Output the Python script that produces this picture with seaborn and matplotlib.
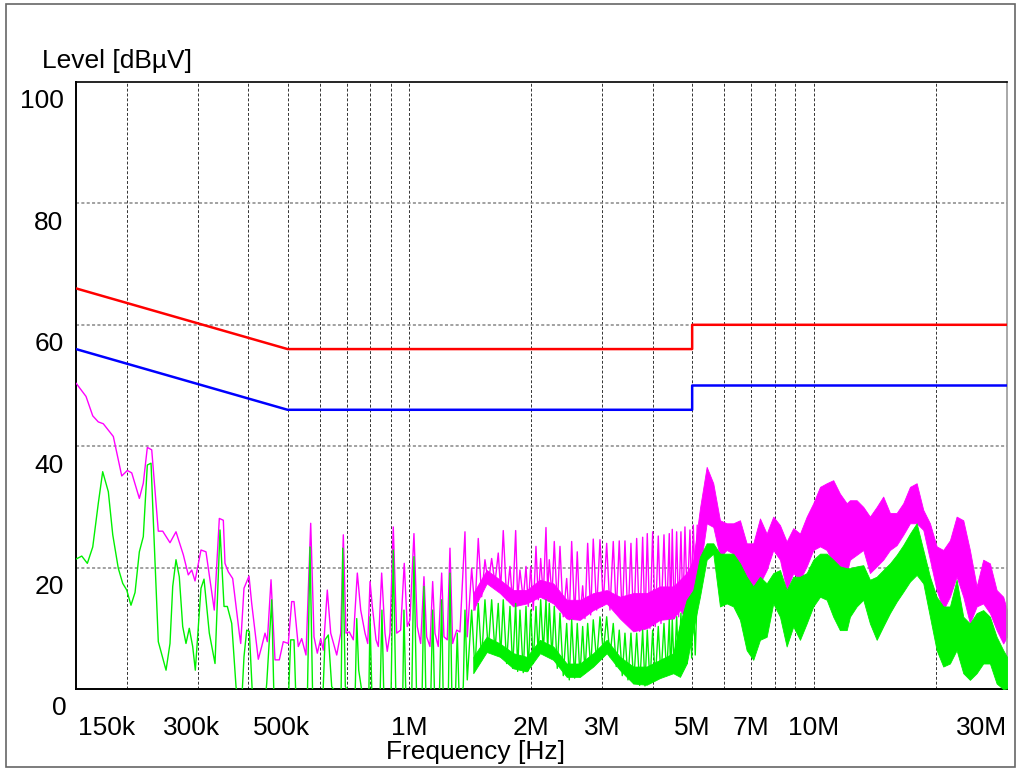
import matplotlib
matplotlib.use("Agg")
import matplotlib.pyplot as plt
from matplotlib.patches import Rectangle
from matplotlib.ticker import FixedLocator, NullLocator
import numpy as np
import seaborn as sns

# limit lines (CISPR class B), frequency in MHz
limit_f = [0.15, 0.5, 5.0, 5.0, 30.0]
qp_limit = [66, 56, 56, 60, 60]
av_limit = [56, 46, 46, 50, 50]

# peak trace (magenta), MHz / dBuV, 150 kHz .. 5.15 MHz
mag_f = [0.1500, 0.1588, 0.1650, 0.1703, 0.1752, 0.1855, 0.1946, 0.2009, 0.2060, 0.2151,
         0.2200, 0.2251, 0.2308, 0.2396, 0.2457, 0.2561, 0.2650, 0.2763, 0.2842, 0.2898,
         0.2953, 0.3055, 0.3143, 0.3295, 0.3391, 0.3469, 0.3502, 0.3569, 0.3659, 0.3799,
         0.3830, 0.3902, 0.4015, 0.4077, 0.4233, 0.4316, 0.4398, 0.4456, 0.4551, 0.4655,
         0.4771, 0.4880, 0.5021, 0.5119, 0.5187, 0.5315, 0.5419, 0.5553, 0.5704, 0.5812,
         0.5922, 0.6038, 0.6128, 0.6269, 0.6392, 0.6614, 0.6766, 0.6867, 0.6974, 0.7106,
         0.7269, 0.7437, 0.7582, 0.7770, 0.7891, 0.7995, 0.8100, 0.8272, 0.8381, 0.8542,
         0.8704, 0.8818, 0.8955, 0.9125, 0.9303, 0.9517, 0.9714, 0.9881, 1.0034, 1.0265,
         1.0460, 1.0665, 1.0867, 1.1035, 1.1244, 1.1419, 1.1569, 1.1788, 1.2019, 1.2177,
         1.2408, 1.2600, 1.2795, 1.3090, 1.3338, 1.3723, 1.3904,
         1.4255, 1.4526, 1.4801, 1.5090, 1.5376, 1.5668, 1.5974, 1.6277, 1.6585, 1.6814,
         1.7064, 1.7398, 1.7728, 1.8003, 1.8313, 1.8522, 1.8765, 1.9121, 1.9421, 1.9676,
         1.9946, 2.0244, 2.0557, 2.0828, 2.1114, 2.1429, 2.1761, 2.1973, 2.2174, 2.2517,
         2.2813, 2.3206, 2.3565, 2.4012, 2.4481, 2.4846, 2.5186, 2.5620, 2.6001, 2.6404,
         2.6813, 2.7167, 2.7588, 2.8063, 2.8481, 2.9038, 2.9590, 3.0148, 3.0737, 3.1320,
         3.1914, 3.2463, 3.3021, 3.3590, 3.4110, 3.4698, 3.5295, 3.5842, 3.6460, 3.7088,
         3.7726, 3.8224, 3.8727, 3.9327, 3.9937, 4.0533, 4.1231, 4.1870, 4.2591, 4.3251,
         4.3891, 4.4242, 4.4647, 4.5152, 4.5774, 4.6298, 4.6908, 4.7444, 4.7988, 4.8620,
         4.9380, 4.9861, 5.0315, 5.0883, 5.1467]
mag_db = [50.4, 48.2, 45.0, 44.0, 43.7, 41.6, 35.1, 36.0, 35.6, 31.4,
          33.9, 39.8, 39.4, 26.0, 26.0, 24.1, 25.9, 22.1, 18.8, 19.6,
          17.8, 22.9, 22.6, 13.0, 28.1, 27.8, 20.7, 19.3, 18.2, 9.2,
          7.5, 16.6, 18.6, 14.1, 4.9, 7.0, 9.2, 7.8, 18.0, 4.8,
          4.8, 7.8, 7.5, 14.4, 14.4, 7.0, 8.3, 5.6, 27.3, 8.6,
          5.9, 8.3, 6.4, 16.3, 9.2, 5.6, 9.2, 25.4, 9.2, 9.4,
          8.1, 19.1, 13.0, 9.2, 7.5, 17.7, 13.6, 8.1, 7.0, 19.1,
          9.2, 6.2, 9.2, 26.7, 9.2, 9.7, 20.7, 10.3, 11.4, 25.6,
          10.3, 7.5, 18.5, 8.6, 7.0, 17.7, 9.2, 7.0, 19.1, 8.6,
          8.1, 23.2, 7.5, 9.7, 9.4, 25.9, 8.6,
          19.9, 13.0, 24.8, 15.2, 21.3, 17.4, 21.5, 17.4, 22.4, 16.3,
          26.1, 14.7, 20.2, 14.1, 26.1, 14.7, 19.6, 14.7, 20.2, 13.6,
          20.2, 13.0, 23.5, 14.7, 21.5, 15.2, 26.6, 15.8, 21.3, 15.2,
          24.3, 13.6, 23.5, 11.9, 18.2, 11.4, 24.3, 11.9, 22.6, 11.4,
          17.0, 11.6, 24.0, 12.2, 24.7, 13.0, 24.6, 14.1, 24.0, 13.0,
          24.3, 12.5, 24.4, 11.6, 24.4, 10.8, 24.0, 9.7, 24.8, 9.5,
          25.0, 10.0, 25.6, 10.0, 25.9, 10.3, 25.2, 10.8, 25.4, 11.6,
          25.6, 11.9, 26.3, 11.6, 25.9, 11.9, 25.9, 12.5, 26.7, 14.1,
          26.2, 15.2, 27.0, 16.9, 27.0]

# average trace (green), MHz / dBuV; -2 = below the plotted floor
avg_f = [0.1500, 0.1550, 0.1600, 0.1650, 0.1703, 0.1746, 0.1803, 0.1849, 0.1908, 0.1957,
         0.2002, 0.2051, 0.2099, 0.2151, 0.2200, 0.2251, 0.2299, 0.2329, 0.2396, 0.2504,
         0.2561, 0.2601, 0.2650, 0.2700, 0.2753, 0.2805, 0.2858, 0.2914, 0.2958, 0.3055,
         0.3108, 0.3203, 0.3309, 0.3404, 0.3483, 0.3549, 0.3639, 0.3729, 0.3772, 0.3852,
         0.3902, 0.3963, 0.4022, 0.4101, 0.4398, 0.4441, 0.4569, 0.4629, 0.5021, 0.5090,
         0.5187, 0.5246, 0.5595, 0.5681, 0.5770, 0.6108, 0.6188, 0.6305, 0.6428, 0.6778,
         0.6844, 0.6946, 0.7340, 0.7412, 0.7496, 0.7695, 0.7936, 0.7995, 0.8086, 0.8460,
         0.8556, 0.8654, 0.9006, 0.9125, 0.9266, 0.9626, 0.9697, 0.9809, 1.0132, 1.0265,
         1.0425, 1.0744, 1.0867, 1.0991, 1.1289, 1.1419, 1.1549, 1.1855, 1.2019, 1.2128,
         1.2479, 1.2600, 1.2744, 1.2986, 1.3134, 1.3285, 1.3591, 1.3723, 1.3904,
         1.4255, 1.4526, 1.4801, 1.5090, 1.5376, 1.5668, 1.5974, 1.6277, 1.6585, 1.6814,
         1.7064, 1.7398, 1.7728, 1.8003, 1.8313, 1.8522, 1.8765, 1.9121, 1.9421, 1.9676,
         1.9946, 2.0244, 2.0557, 2.0828, 2.1114, 2.1429, 2.1761, 2.1973, 2.2174, 2.2517,
         2.2813, 2.3206, 2.3565, 2.4012, 2.4481, 2.4846, 2.5186, 2.5620, 2.6001, 2.6404,
         2.6813, 2.7167, 2.7588, 2.8063, 2.8481, 2.9038, 2.9590, 3.0148, 3.0737, 3.1320,
         3.1914, 3.2463, 3.3021, 3.3590, 3.4110, 3.4698, 3.5295, 3.5842, 3.6460, 3.7088,
         3.7726, 3.8224, 3.8727, 3.9327, 3.9937, 4.0533, 4.1231, 4.1870, 4.2591, 4.3251,
         4.3891, 4.4242, 4.4647, 4.5152, 4.5774, 4.6298, 4.6908, 4.7444, 4.7988, 4.8620,
         4.9380, 4.9861, 5.0315, 5.0883, 5.1467]
avg_db = [21.4, 21.9, 20.7, 23.4, 30.6, 35.8, 32.5, 25.4, 19.9, 17.4,
          16.3, 13.8, 15.9, 22.6, 25.1, 36.9, 37.2, 27.8, 7.8, 3.1,
          7.5, 16.9, 21.3, 18.5, 10.3, 7.5, 10.0, 7.0, 3.1, 16.6,
          18.1, 9.2, 4.2, 26.2, 13.6, 13.6, 10.8, 0.4, -2, -2,
          5.3, 9.7, 9.5, -2, -2, 0.9, 14.7, -2, -2, 8.1,
          8.1, -2, -2, 23.4, -2, -2, 8.1, 8.9, 0.4, -2,
          23.2, 0.4, -2, 11.6, 3.1, -2, -2, 11.9, -2, -2,
          13.0, -2, -2, 22.9, -2, -2, 13.0, -2, -2, 21.8,
          -2, -2, 16.9, -2, -2, 13.0, -2, -2, 14.7, -2,
          -2, 19.1, -2, -2, 9.2, -2, 0.4, 13.0, 1.5,
          13.0, 3.1, 14.1, 4.8, 14.7, 6.4, 14.7, 6.1, 14.1, 5.3,
          14.7, 4.2, 13.6, 3.4, 14.1, 2.9, 13.0, 2.7, 13.6, 3.0,
          13.0, 4.2, 13.6, 5.6, 14.7, 6.1, 14.7, 6.1, 14.1, 5.1,
          13.6, 3.4, 12.5, 2.2, 10.8, 1.5, 11.4, 1.8, 10.8, 2.0,
          10.3, 2.6, 10.8, 3.4, 11.4, 4.5, 11.9, 6.1, 11.9, 5.3,
          10.8, 3.7, 9.7, 2.2, 9.2, 1.5, 9.2, 0.9, 9.2, 0.6,
          9.7, 0.5, 9.7, 0.9, 9.7, 1.4, 10.3, 1.9, 10.8, 2.2,
          11.4, 2.5, 11.4, 2.6, 11.9, 3.1, 12.5, 3.7, 13.0, 4.2,
          14.7, 5.1, 15.2, 5.6, 16.3]

# dense part of both traces: lower / upper envelope, MHz / dBuV
band_f = [1.4385, 1.5527, 1.6747, 1.8065, 1.9499, 2.1030, 2.2683, 2.4478, 2.6404, 2.8478,
          3.0736, 3.3152, 3.5760, 3.8592, 4.1626, 4.4896,
          4.665, 4.846, 5.031, 5.227, 5.430, 5.638, 5.857, 6.085, 6.318, 6.563,
          6.817, 7.079, 7.354, 7.640, 7.933, 8.241, 8.560, 8.889, 9.235, 9.594,
          9.96, 10.35, 10.75, 11.16, 11.59, 12.05,
          12.27, 12.75, 13.24, 13.75, 14.29, 14.83, 15.41, 16.01, 16.62, 17.27,
          17.94, 18.63, 19.35, 20.10, 20.87, 21.68, 22.52, 23.39, 24.29, 25.24,
          26.20, 27.22, 28.28, 29.36, 30.0]
mag_lo = [13.0, 17.4, 15.8, 13.6, 14.1, 15.2, 14.1, 11.6, 11.4, 13.0,
          14.1, 11.6, 9.5, 10.0, 11.4, 11.6,
          13.0, 11.4, 15.8, 19.6, 27.3, 26.7, 21.8, 22.9, 22.3, 20.7,
          16.3, 14.1, 17.4, 19.6, 22.9, 21.3, 16.3, 19.1, 18.0, 20.2,
          22.9, 23.5, 22.9, 20.7, 19.1, 19.1,
          21.3, 22.1, 22.9, 19.1, 20.2, 21.3, 22.9, 23.7, 25.4, 27.3,
          27.3, 26.2, 21.3, 16.3, 13.0, 15.2, 18.5, 15.2, 10.8, 13.6,
          14.1, 12.5, 9.7, 7.5, 8.6]
mag_hi = [15.8, 19.6, 18.0, 16.3, 16.3, 18.0, 17.4, 14.7, 14.7, 15.8,
          16.3, 15.2, 15.8, 15.8, 16.9, 16.9,
          18.0, 19.1, 21.3, 29.8, 36.6, 33.9, 27.8, 27.3, 27.3, 27.8,
          24.0, 24.0, 28.1, 25.6, 28.4, 27.0, 24.3, 26.5, 25.6, 28.4,
          30.6, 33.3, 33.9, 34.4, 32.2, 30.6,
          31.1, 31.1, 30.0, 28.4, 30.0, 31.7, 29.0, 29.0, 30.6, 33.3,
          33.9, 29.5, 27.3, 23.5, 22.9, 24.5, 28.4, 27.8, 22.9, 16.9,
          21.3, 20.7, 16.3, 15.2, 13.0]
avg_lo = [2.6, 6.1, 5.3, 3.4, 2.9, 5.9, 4.8, 2.0, 2.0, 3.7,
          5.9, 3.1, 0.9, 0.7, 1.8, 2.6,
          2.0, 4.2, 9.7, 15.2, 21.3, 22.3, 13.6, 14.1, 13.6, 11.4,
          6.4, 4.8, 8.1, 8.6, 14.1, 11.9, 7.0, 10.3, 8.1, 10.8,
          13.6, 15.2, 14.7, 11.9, 9.7, 9.7,
          11.9, 13.6, 14.7, 10.8, 8.1, 10.3, 12.5, 14.4, 16.0, 17.7,
          18.8, 17.4, 11.9, 6.4, 3.7, 4.2, 6.4, 2.6, 1.5, 2.6,
          4.2, 4.2, 0.9, 0.0, 0.1]
avg_hi = [5.3, 8.6, 7.5, 5.9, 5.3, 8.1, 7.0, 4.2, 4.2, 5.9,
          8.1, 5.3, 3.7, 3.7, 4.8, 5.9,
          10.8, 14.7, 16.3, 21.8, 24.0, 24.0, 22.3, 22.3, 22.3, 20.7,
          18.5, 16.9, 18.5, 17.4, 19.1, 19.6, 16.3, 18.5, 18.5, 19.1,
          21.3, 22.3, 22.3, 21.3, 20.2, 19.9,
          19.9, 20.2, 20.4, 18.0, 18.5, 19.6, 20.7, 22.1, 23.7, 25.6,
          27.3, 22.9, 18.5, 15.2, 13.6, 13.6, 18.0, 11.9, 10.8, 12.5,
          13.0, 11.9, 8.6, 6.4, 5.3]

grid_f = [0.2, 0.3, 0.4, 0.5, 0.6, 0.7, 0.8, 0.9, 1, 2, 3, 4, 5, 6, 7, 8, 9, 10, 20]
tick_f = [0.15, 0.3, 0.5, 1, 2, 3, 5, 7, 10, 30]
tick_labels = ["150k", "300k", "500k", "1M", "2M", "3M", "5M", "7M", "10M", "30M"]
y_ticks = [0, 20, 40, 60, 80, 100]

MAG = "#ff00ff"
GRN = "#00f000"

sns.set_theme(style="white")
plt.rcParams["font.family"] = ["Liberation Sans", "DejaVu Sans"]

W, H = 1017, 769
fig = plt.figure(figsize=(W / 100, H / 100), dpi=100)
ax = fig.add_axes([76 / W, 1 - 689 / H, (1007 - 76) / W, (689 - 82) / H])
ax.set_xscale("log")

hz = lambda v: np.asarray(v) * 1e6

# dense bands first, magenta under green
ax.fill_between(hz(band_f), mag_lo, mag_hi, color=MAG, lw=0.6, zorder=2)
sns.lineplot(x=hz(mag_f), y=mag_db, color=MAG, lw=1.0, ax=ax,
             estimator=None, sort=False, zorder=3)
ax.fill_between(hz(band_f), avg_lo, avg_hi, color=GRN, lw=0.6, zorder=4)
sns.lineplot(x=hz(avg_f), y=avg_db, color=GRN, lw=1.0, ax=ax,
             estimator=None, sort=False, zorder=5)

sns.lineplot(x=hz(limit_f), y=qp_limit, color="#ff0000", lw=1.8, ax=ax,
             estimator=None, sort=False, zorder=6)
sns.lineplot(x=hz(limit_f), y=av_limit, color="#0000ff", lw=1.8, ax=ax,
             estimator=None, sort=False, zorder=6)

ax.set_xlim(0.15e6, 30e6)
ax.set_ylim(0, 100)
ax.xaxis.set_major_locator(FixedLocator(hz(grid_f)))
ax.xaxis.set_minor_locator(NullLocator())
ax.yaxis.set_major_locator(FixedLocator([20, 40, 60, 80]))
ax.tick_params(length=0, labelbottom=False, labelleft=False)
ax.set_xlabel("")
ax.set_ylabel("")
ax.set_axisbelow(True)
ax.grid(True, axis="x", color="#333333", ls=(0, (3, 2)), lw=0.7)
ax.grid(True, axis="y", color="#888888", ls=(0, (2, 1.5)), lw=1.1)

for side in ("left", "bottom"):
    ax.spines[side].set_color("black")
    ax.spines[side].set_linewidth(1.4)
ax.spines["top"].set_color("black")
ax.spines["top"].set_linestyle((0, (2, 1)))
ax.spines["top"].set_linewidth(1.2)
ax.spines["right"].set_color("#999999")
ax.spines["right"].set_linestyle((0, (2, 1)))
ax.spines["right"].set_linewidth(1.2)

fs = 19
for v in y_ticks:
    dx = -6.5 if v == 0 else -9.0
    ax.annotate(str(v), xy=(0, v), xycoords=ax.get_yaxis_transform(),
                xytext=(dx, -14), textcoords="offset points",
                ha="right", va="center", fontsize=fs, color="black")

for f, lab in zip(tick_f, tick_labels):
    ha, dx = "center", 0
    if lab == "150k":
        ha, dx = "left", 1.5
    elif lab == "30M":
        ha = "right"
    elif lab.endswith("k"):
        dx = -4.3
    ax.annotate(lab, xy=(f * 1e6, 0), xycoords=ax.get_xaxis_transform(),
                xytext=(dx, -28), textcoords="offset points",
                ha=ha, va="center", fontsize=fs, color="black")

fig.text(42 / W, 1 - 61 / H, "Level [dBµV]", ha="left", va="center",
         fontsize=fs, color="black")
fig.text(476 / W, 1 - 752 / H, "Frequency [Hz]", ha="center", va="center",
         fontsize=fs, color="black")

fig.add_artist(Rectangle((6 / W, 2 / H), 1009 / W, 763 / H,
                         transform=fig.transFigure, fill=False,
                         edgecolor="#666666", lw=1.2))

fig.savefig("out.png", dpi=100)
